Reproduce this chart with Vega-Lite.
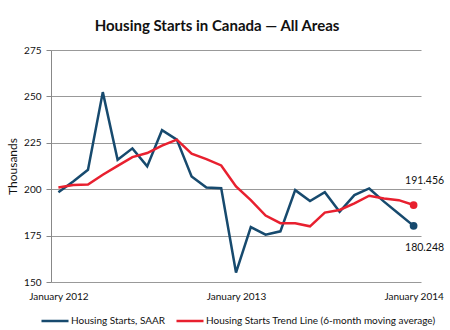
{
  "$schema": "https://vega.github.io/schema/vega-lite/v6.json",
  "width": 370,
  "height": 232,
  "autosize": {"type": "none"},
  "padding": {"left": 51, "top": 50, "right": 29, "bottom": 48},
  "background": "white",
  "title": {
    "text": "Housing Starts in Canada — All Areas",
    "font": "Lato",
    "fontSize": 15,
    "fontWeight": "bold",
    "color": "#111111",
    "anchor": "middle",
    "offset": 11,
    "dx": -19
  },
  "config": {
    "view": {"stroke": null},
    "font": "Lato"
  },
  "data": {
    "values": [
      {"month": "January 2012", "series": "Housing Starts, SAAR", "value": 198.4},
      {"month": "February 2012", "series": "Housing Starts, SAAR", "value": 204.2},
      {"month": "March 2012", "series": "Housing Starts, SAAR", "value": 210.5},
      {"month": "April 2012", "series": "Housing Starts, SAAR", "value": 252.3},
      {"month": "May 2012", "series": "Housing Starts, SAAR", "value": 215.9},
      {"month": "June 2012", "series": "Housing Starts, SAAR", "value": 222.0},
      {"month": "July 2012", "series": "Housing Starts, SAAR", "value": 212.3},
      {"month": "August 2012", "series": "Housing Starts, SAAR", "value": 231.8},
      {"month": "September 2012", "series": "Housing Starts, SAAR", "value": 226.7},
      {"month": "October 2012", "series": "Housing Starts, SAAR", "value": 206.9},
      {"month": "November 2012", "series": "Housing Starts, SAAR", "value": 200.9},
      {"month": "December 2012", "series": "Housing Starts, SAAR", "value": 200.5},
      {"month": "January 2013", "series": "Housing Starts, SAAR", "value": 155.1},
      {"month": "February 2013", "series": "Housing Starts, SAAR", "value": 179.6},
      {"month": "March 2013", "series": "Housing Starts, SAAR", "value": 175.5},
      {"month": "April 2013", "series": "Housing Starts, SAAR", "value": 177.3},
      {"month": "May 2013", "series": "Housing Starts, SAAR", "value": 199.5},
      {"month": "June 2013", "series": "Housing Starts, SAAR", "value": 193.6},
      {"month": "July 2013", "series": "Housing Starts, SAAR", "value": 198.4},
      {"month": "August 2013", "series": "Housing Starts, SAAR", "value": 187.8},
      {"month": "September 2013", "series": "Housing Starts, SAAR", "value": 196.8},
      {"month": "October 2013", "series": "Housing Starts, SAAR", "value": 200.4},
      {"month": "November 2013", "series": "Housing Starts, SAAR", "value": 193.3},
      {"month": "December 2013", "series": "Housing Starts, SAAR", "value": 186.8},
      {"month": "January 2014", "series": "Housing Starts, SAAR", "value": 180.248},
      {"month": "January 2012", "series": "Housing Starts Trend Line (6-month moving average)", "value": 200.9},
      {"month": "February 2012", "series": "Housing Starts Trend Line (6-month moving average)", "value": 202.3},
      {"month": "March 2012", "series": "Housing Starts Trend Line (6-month moving average)", "value": 202.5},
      {"month": "April 2012", "series": "Housing Starts Trend Line (6-month moving average)", "value": 207.8},
      {"month": "May 2012", "series": "Housing Starts Trend Line (6-month moving average)", "value": 212.6},
      {"month": "June 2012", "series": "Housing Starts Trend Line (6-month moving average)", "value": 217.3},
      {"month": "July 2012", "series": "Housing Starts Trend Line (6-month moving average)", "value": 219.5},
      {"month": "August 2012", "series": "Housing Starts Trend Line (6-month moving average)", "value": 223.5},
      {"month": "September 2012", "series": "Housing Starts Trend Line (6-month moving average)", "value": 226.7},
      {"month": "October 2012", "series": "Housing Starts Trend Line (6-month moving average)", "value": 219.1},
      {"month": "November 2012", "series": "Housing Starts Trend Line (6-month moving average)", "value": 216.2},
      {"month": "December 2012", "series": "Housing Starts Trend Line (6-month moving average)", "value": 212.8},
      {"month": "January 2013", "series": "Housing Starts Trend Line (6-month moving average)", "value": 201.5},
      {"month": "February 2013", "series": "Housing Starts Trend Line (6-month moving average)", "value": 194.1},
      {"month": "March 2013", "series": "Housing Starts Trend Line (6-month moving average)", "value": 185.8},
      {"month": "April 2013", "series": "Housing Starts Trend Line (6-month moving average)", "value": 181.7},
      {"month": "May 2013", "series": "Housing Starts Trend Line (6-month moving average)", "value": 181.7},
      {"month": "June 2013", "series": "Housing Starts Trend Line (6-month moving average)", "value": 180.0},
      {"month": "July 2013", "series": "Housing Starts Trend Line (6-month moving average)", "value": 187.4},
      {"month": "August 2013", "series": "Housing Starts Trend Line (6-month moving average)", "value": 188.8},
      {"month": "September 2013", "series": "Housing Starts Trend Line (6-month moving average)", "value": 192.4},
      {"month": "October 2013", "series": "Housing Starts Trend Line (6-month moving average)", "value": 196.5},
      {"month": "November 2013", "series": "Housing Starts Trend Line (6-month moving average)", "value": 195.0},
      {"month": "December 2013", "series": "Housing Starts Trend Line (6-month moving average)", "value": 194.1},
      {"month": "January 2014", "series": "Housing Starts Trend Line (6-month moving average)", "value": 191.456}
    ]
  },
  "encoding": {
    "x": {
      "field": "month",
      "type": "ordinal",
      "sort": null,
      "scale": {"type": "point", "padding": 0.5},
      "axis": {
        "title": null,
        "values": ["January 2012", "January 2013", "January 2014"],
        "labelAngle": 0,
        "domain": false,
        "ticks": false,
        "labelPadding": 9,
        "labelFont": "Lato",
        "labelFontSize": 10,
        "labelColor": "#111111"
      }
    },
    "y": {
      "field": "value",
      "type": "quantitative",
      "scale": {"domain": [150, 275], "zero": false, "nice": false},
      "axis": {
        "title": "Thousands",
        "titleFont": "Lato",
        "titleFontSize": 12,
        "titleFontWeight": "normal",
        "titleColor": "#111111",
        "titlePadding": 4,
        "values": [150, 175, 200, 225, 250, 275],
        "labelFont": "Lato",
        "labelFontSize": 10,
        "labelColor": "#111111",
        "labelPadding": 5,
        "tickSize": 5,
        "tickColor": "#888888",
        "domainColor": "#888888",
        "gridColor": "#999999",
        "grid": true
      }
    }
  },
  "layer": [
    {
      "mark": {"type": "line", "strokeWidth": 2.5},
      "encoding": {
        "color": {
          "field": "series",
          "type": "nominal",
          "sort": null,
          "scale": {
            "domain": ["Housing Starts, SAAR", "Housing Starts Trend Line (6-month moving average)"],
            "range": ["#174a6e", "#e8202f"]
          },
          "legend": {
            "title": null,
            "orient": "none",
            "legendX": -11,
            "legendY": 256,
            "direction": "horizontal",
            "symbolType": "stroke",
            "symbolSize": 730,
            "symbolStrokeWidth": 2.5,
            "labelFont": "Lato",
            "labelFontSize": 10,
            "labelColor": "#111111",
            "labelLimit": 0,
            "labelOffset": 1,
            "columnPadding": 5
          }
        }
      }
    },
    {
      "transform": [{"filter": "datum.month === 'January 2014'"}],
      "mark": {"type": "point", "filled": true, "size": 60, "opacity": 1},
      "encoding": {
        "color": {"field": "series", "type": "nominal", "legend": null}
      }
    },
    {
      "transform": [{"filter": "datum.month === 'January 2014' && datum.series === 'Housing Starts Trend Line (6-month moving average)'"}],
      "mark": {"type": "text", "dx": 11, "dy": -24, "fontSize": 10.5, "font": "Lato", "color": "#111111"},
      "encoding": {"text": {"field": "value", "type": "quantitative", "format": ".3f"}}
    },
    {
      "transform": [{"filter": "datum.month === 'January 2014' && datum.series === 'Housing Starts, SAAR'"}],
      "mark": {"type": "text", "dx": 11, "dy": 22, "fontSize": 10.5, "font": "Lato", "color": "#111111"},
      "encoding": {"text": {"field": "value", "type": "quantitative", "format": ".3f"}}
    }
  ]
}
